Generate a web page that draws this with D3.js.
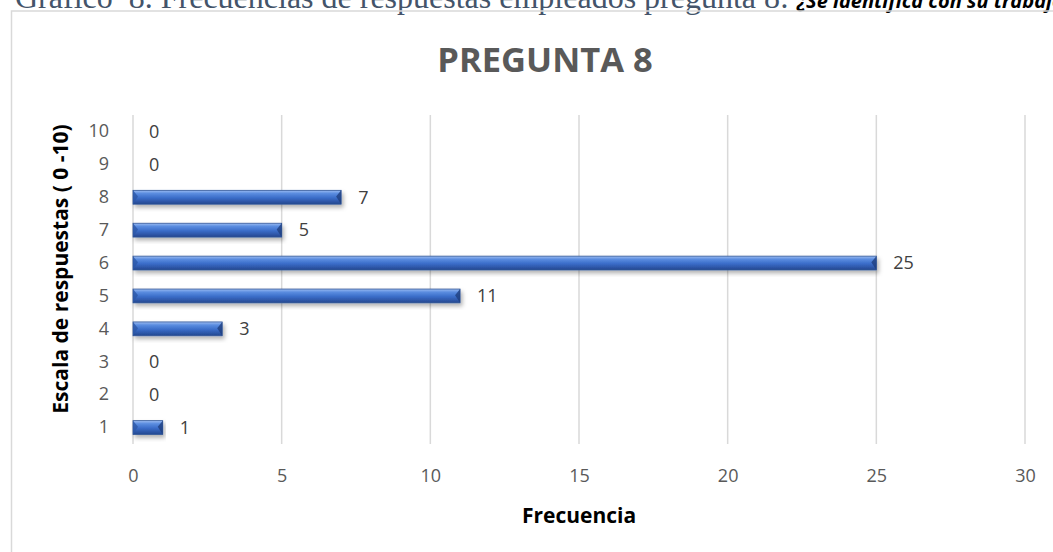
<!DOCTYPE html>
<html>
<head>
<meta charset="utf-8">
<script src="https://cdn.jsdelivr.net/npm/d3@7"></script>
<style>
  body { margin: 0; background: #fff; }
  svg text { font-family: "Open Sans", "Noto Sans", sans-serif; }
</style>
</head>
<body>
<div id="chart"></div>
<script>
// data
let categories = ["1", "2", "3", "4", "5", "6", "7", "8", "9", "10"];
let values = [1, 0, 0, 3, 11, 25, 5, 7, 0, 0];
let xTicks = [0, 5, 10, 15, 20, 25, 30];

let svgWidth = 1053, svgHeight = 552;
let margin = {top: 115, right: 28, bottom: 108, left: 133};
let width = svgWidth - margin.left - margin.right,
    height = svgHeight - margin.top - margin.bottom;

let svg = d3.select("#chart").append("svg")
    .attr("width", svgWidth)
    .attr("height", svgHeight);

// bar gradient + shadow
let defs = svg.append("defs");
let grad = defs.append("linearGradient").attr("id", "barGrad")
    .attr("x1", 0).attr("y1", 0).attr("x2", 0).attr("y2", 1);
grad.append("stop").attr("offset", "0%").attr("stop-color", "#9dbdf2");
grad.append("stop").attr("offset", "22%").attr("stop-color", "#5b8de0");
grad.append("stop").attr("offset", "55%").attr("stop-color", "#3a6cc8");
grad.append("stop").attr("offset", "100%").attr("stop-color", "#24478f");

let shadow = defs.append("filter").attr("id", "shadow")
    .attr("x", "-5%").attr("y", "-30%").attr("width", "115%").attr("height", "180%");
shadow.append("feDropShadow").attr("dx", 2).attr("dy", 3)
    .attr("stdDeviation", 2).attr("flood-color", "#000").attr("flood-opacity", 0.3);

// caption above the chart (its top is cut off by the page edge, as in the original)
let cap = svg.append("text").attr("x", 15).attr("y", 8).style("white-space", "pre");
cap.append("tspan").text("Gráfico  8. Frecuencias de respuestas empleados pregunta 8: ")
    .style("font-family", "'Liberation Serif', serif")
    .attr("font-size", "32px").attr("fill", "#44546a");
cap.append("tspan").text("¿Se identifica con su trabajo?")
    .attr("font-size", "20px").attr("font-weight", "bold").attr("font-style", "italic")
    .attr("fill", "#000");

// chart frame
svg.append("rect").attr("x", 11.5).attr("y", 11)
    .attr("width", 1100).attr("height", 600)
    .attr("fill", "none").attr("stroke", "#d9d9d9").attr("stroke-width", 1.5);

svg.append("text").text("PREGUNTA 8")
    .attr("x", 545).attr("y", 72)
    .attr("text-anchor", "middle")
    .attr("font-size", "34.5px").attr("font-weight", "bold").attr("fill", "#595959");

let g = svg.append("g")
    .attr("transform", "translate(" + margin.left + "," + margin.top + ")");

let x = d3.scaleLinear().domain([0, 30]).range([0, width]);
let y = d3.scaleBand().domain(categories.slice().reverse()).range([0, height]).paddingInner(0.58).paddingOuter(0.29);

// vertical gridlines
g.append("g").selectAll("line").data(xTicks).enter().append("line")
    .attr("x1", function(d) { return x(d); })
    .attr("x2", function(d) { return x(d); })
    .attr("y1", 0).attr("y2", height)
    .attr("stroke", "#d9d9d9").attr("stroke-width", 1.5);

// x axis labels
let xAxis = g.append("g")
    .attr("transform", "translate(0," + height + ")")
    .call(d3.axisBottom(x).tickValues(xTicks).tickSize(0).tickPadding(25));
xAxis.select(".domain").remove();
xAxis.selectAll("text").attr("font-size", "18px").attr("fill", "#595959")
    .style("font-family", "'Open Sans', sans-serif");

// y axis labels
let yAxis = g.append("g")
    .call(d3.axisLeft(y).tickSize(0).tickPadding(24));
yAxis.select(".domain").remove();
yAxis.selectAll("text").attr("font-size", "18px").attr("fill", "#595959")
    .style("font-family", "'Open Sans', sans-serif");

// bars
let bars = g.selectAll(".bar").data(categories).enter().append("g")
    .attr("class", "bar");

bars.each(function(d, i) {
    let v = values[i];
    let sel = d3.select(this);
    if (v > 0) {
        let x0 = x(0), x1 = x(v), y0 = y(d), bh = y.bandwidth();
        let bev = Math.min(5, (x1 - x0) / 3);
        sel.append("rect")
            .attr("x", x0).attr("y", y0)
            .attr("width", x1 - x0).attr("height", bh)
            .attr("fill", "url(#barGrad)")
            .attr("stroke", "#2f5597").attr("stroke-width", 0.8)
            .attr("filter", "url(#shadow)");
        // bevelled ends
        sel.append("path")
            .attr("d", "M" + x0 + "," + y0 + "L" + (x0 + bev) + "," + (y0 + bh * 0.45) + "L" + x0 + "," + (y0 + bh) + "Z")
            .attr("fill", "#2c58a8").attr("opacity", 0.8);
        sel.append("path")
            .attr("d", "M" + x1 + "," + y0 + "L" + (x1 - bev) + "," + (y0 + bh * 0.45) + "L" + x1 + "," + (y0 + bh) + "Z")
            .attr("fill", "#1f3f7e").attr("opacity", 0.8);
    }
    sel.append("text").text(v)
        .attr("x", x(v) + (v > 0 ? 17 : 16))
        .attr("y", y(d) + y.bandwidth() / 2)
        .attr("dy", "0.35em")
        .attr("font-size", "18px").attr("fill", "#404040");
});

// axis titles
svg.append("text").text("Frecuencia")
    .attr("x", margin.left + width / 2).attr("y", 523)
    .attr("text-anchor", "middle")
    .attr("font-size", "21px").attr("font-weight", "bold").attr("fill", "#000");

svg.append("text").text("Escala de respuestas ( 0 -10)")
    .attr("transform", "translate(68,269) rotate(-90)")
    .attr("text-anchor", "middle")
    .attr("font-size", "21px").attr("font-weight", "bold").attr("fill", "#000");
</script>
</body>
</html>
